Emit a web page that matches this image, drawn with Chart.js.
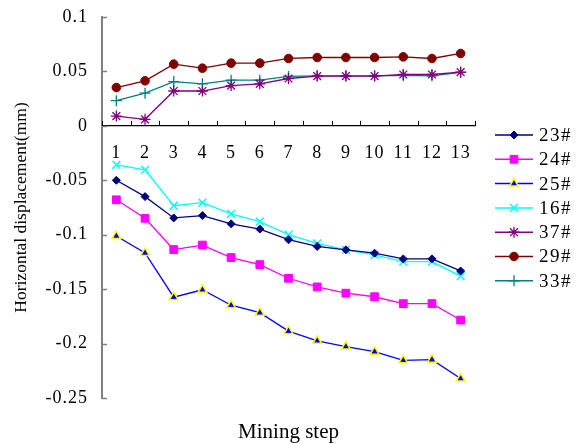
<!DOCTYPE html>
<html>
<head>
<meta charset="utf-8">
<script src="https://cdn.jsdelivr.net/npm/chart.js@4/dist/chart.umd.min.js"></script>
<style>
html,body{margin:0;padding:0;background:#fff;}
#wrap{width:580px;height:443px;position:relative;}
</style>
</head>
<body>
<div id="wrap"><canvas id="c" width="580" height="443"></canvas></div>
<script>
const categories = ['1','2','3','4','5','6','7','8','9','10','11','12','13'];
const yTickValues = [0.1, 0.05, 0, -0.05, -0.1, -0.15, -0.2, -0.25];
const yTickLabels = ['0.1', '0.05', '0', '-0.05', '-0.1', '-0.15', '-0.2', '-0.25'];
const seriesNames = ['23#', '24#', '25#', '16#', '37#', '29#', '33#'];
const s23 = [-0.050, -0.065, -0.0846, -0.0824, -0.090, -0.0948, -0.1046, -0.1108, -0.1139, -0.1170, -0.1222, -0.1222, -0.1333];
const s24 = [-0.0679, -0.0849, -0.1136, -0.1095, -0.1210, -0.1275, -0.1400, -0.1480, -0.1537, -0.1570, -0.1633, -0.1633, -0.1784];
const s25 = [-0.1012, -0.1167, -0.1574, -0.1506, -0.1648, -0.1716, -0.1886, -0.1975, -0.2028, -0.2074, -0.2154, -0.2148, -0.2321];
const s16 = [-0.0358, -0.0405, -0.0734, -0.0706, -0.0808, -0.0880, -0.1000, -0.1080, -0.1139, -0.1185, -0.1247, -0.1247, -0.1380];
const s37 = [0.009, 0.006, 0.032, 0.032, 0.037, 0.0386, 0.0435, 0.0457, 0.0457, 0.0457, 0.0472, 0.0472, 0.0494];
const s29 = [0.0352, 0.0414, 0.0567, 0.0530, 0.0576, 0.0576, 0.0619, 0.0628, 0.0628, 0.0628, 0.0634, 0.0619, 0.0665];
const s33 = [0.0231, 0.0300, 0.0407, 0.0386, 0.0420, 0.0420, 0.0454, 0.0460, 0.0460, 0.0460, 0.0463, 0.0460, 0.0491];
const xTitle = 'Mining step';
const yTitle = 'Horizontal displacement(mm)';

const SERIF = '"Liberation Serif", "Times New Roman", serif';

function ds(label, data, color, style, radius, fill, border, bw) {
  return {
    label, data,
    borderColor: color, borderWidth: 1.3,
    pointStyle: style, pointRadius: radius, pointHoverRadius: radius,
    pointBackgroundColor: fill, pointBorderColor: border, pointBorderWidth: bw,
    tension: 0, fill: false
  };
}

const datasets = [
  ds(seriesNames[0], s23, '#000080', 'rectRot', 4, '#000080', '#000080', 1),
  ds(seriesNames[1], s24, '#FF00FF', 'rect', 5.5, '#FF00FF', '#FF00FF', 1),
  ds(seriesNames[2], s25, '#0000FF', 'triangle', 5, '#0000FF', '#FFFF00', 1.5),
  ds(seriesNames[3], s16, '#00FFFF', 'crossRot', 5.5, '#00FFFF', '#00FFFF', 1.5),
  ds(seriesNames[4], s37, '#800080', 'star', 5.5, '#800080', '#800080', 1.3),
  ds(seriesNames[5], s29, '#800000', 'circle', 4.3, '#800000', '#800000', 1),
  ds(seriesNames[6], s33, '#008080', 'cross', 5.5, '#008080', '#008080', 1.3)
];

const ticksAndLegend = {
  id: 'ticksAndLegend',
  beforeDraw(chart) {
    try { chart.ctx.letterSpacing = '1px'; } catch (e) {}
  },
  afterDraw(chart) {
    const ctx = chart.ctx;
    const x = chart.scales.x, y = chart.scales.y;
    ctx.save();
    // y axis inward tick marks
    ctx.strokeStyle = '#808080';
    ctx.lineWidth = 1.5;
    const ax = y.right;
    yTickValues.forEach(v => {
      const py = Math.round(y.getPixelForValue(v)) + 0.5;
      ctx.beginPath(); ctx.moveTo(ax, py); ctx.lineTo(ax + 5, py); ctx.stroke();
    });
    // x axis inward tick marks (between categories)
    const y0 = y.getPixelForValue(0);
    const p0 = x.getPixelForValue(0), p1 = x.getPixelForValue(1);
    const step = p1 - p0;
    ctx.strokeStyle = '#000000';
    ctx.lineWidth = 1;
    for (let k = 0; k <= categories.length; k++) {
      const px = Math.round(p0 - step / 2 + k * step) + 0.5;
      ctx.beginPath(); ctx.moveTo(px, y0); ctx.lineTo(px, y0 - 5); ctx.stroke();
    }
    // titles
    try { ctx.letterSpacing = '0px'; } catch (e) {}
    ctx.fillStyle = '#000';
    ctx.font = '21px ' + SERIF;
    ctx.textAlign = 'center';
    ctx.textBaseline = 'middle';
    ctx.fillText(xTitle, (chart.chartArea.left + chart.chartArea.right) / 2, 432);
    ctx.save();
    ctx.translate(21, (chart.chartArea.top + chart.chartArea.bottom) / 2);
    ctx.rotate(-Math.PI / 2);
    ctx.font = '17.5px ' + SERIF;
    ctx.fillText(yTitle, 0, 0);
    ctx.restore();
    // legend
    try { ctx.letterSpacing = '1.5px'; } catch (e) {}
    const lx0 = 495, lx1 = 533, ty = 135, gap = 24.3;
    ctx.font = '19px ' + SERIF;
    ctx.textBaseline = 'middle';
    ctx.textAlign = 'left';
    chart.data.datasets.forEach((d, i) => {
      const yy = ty + i * gap;
      ctx.strokeStyle = d.borderColor;
      ctx.lineWidth = 1.5;
      ctx.beginPath(); ctx.moveTo(lx0, yy); ctx.lineTo(lx1, yy); ctx.stroke();
      ctx.fillStyle = d.pointBackgroundColor;
      ctx.strokeStyle = d.pointBorderColor;
      ctx.lineWidth = d.pointBorderWidth;
      Chart.helpers.drawPoint(ctx, {pointStyle: d.pointStyle, radius: d.pointRadius, rotation: 0, borderWidth: d.pointBorderWidth}, (lx0 + lx1) / 2, yy);
      ctx.fillStyle = '#000';
      ctx.fillText(d.label, 539, yy + 1);
    });
    ctx.restore();
    try { ctx.letterSpacing = '0px'; } catch (e) {}
  }
};

new Chart(document.getElementById('c'), {
  type: 'line',
  data: { labels: categories, datasets },
  options: {
    responsive: false,
    animation: false,
    devicePixelRatio: 1,
    layout: { padding: { top: 17, right: 105, bottom: 45, left: 0 } },
    plugins: {
      legend: { display: false },
      tooltip: { enabled: false },
      title: { display: false }
    },
    scales: {
      x: {
        type: 'category',
        position: { y: 0 },
        offset: true,
        grid: { display: true, drawOnChartArea: false, drawTicks: false },
        border: { display: true, color: '#000000', width: 1.3 },
        ticks: { color: '#000', font: { family: SERIF, size: 18 }, padding: 17, maxRotation: 0, autoSkip: false }
      },
      y: {
        min: -0.25, max: 0.1,
        afterBuildTicks(scale) { scale.ticks = yTickValues.map(v => ({ value: v })); },
        afterFit(scale) { scale.width = 102; },
        grid: { display: true, drawOnChartArea: false, drawTicks: true, tickLength: 12, tickColor: 'rgba(0,0,0,0)' },
        border: { display: true, color: '#808080', width: 2 },
        ticks: {
          color: '#000', font: { family: SERIF, size: 18 }, padding: 2,
          callback: (v) => { const i = yTickValues.findIndex(t => Math.abs(t - v) < 1e-9); return i >= 0 ? yTickLabels[i] : ''; }
        },
        title: { display: false }
      }
    }
  },
  plugins: [ticksAndLegend]
});
</script>
</body>
</html>
